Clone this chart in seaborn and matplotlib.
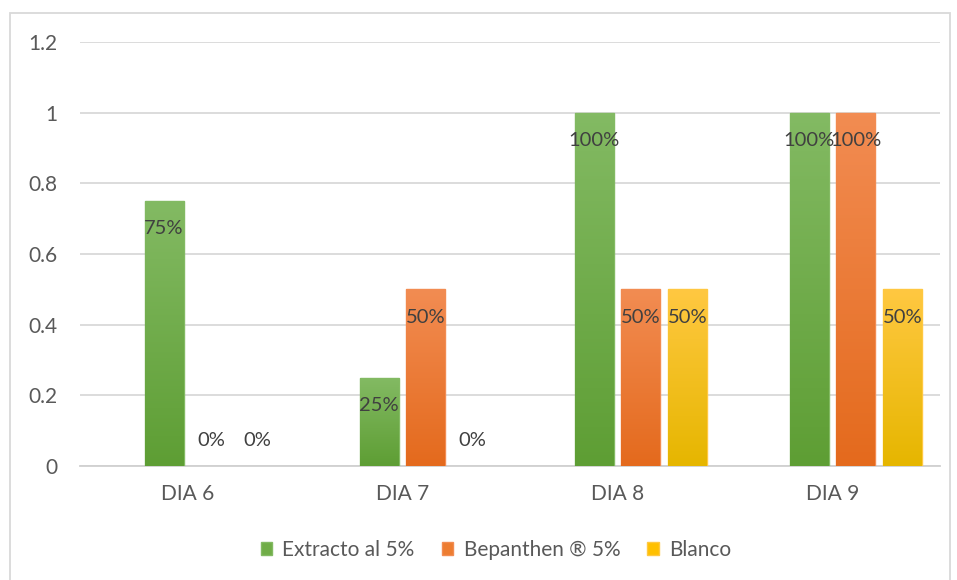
import seaborn as sns
import matplotlib.pyplot as plt
import pandas as pd
import numpy as np
from matplotlib.colors import LinearSegmentedColormap
from matplotlib.patches import Patch, Rectangle

dias = ["DIA 6", "DIA 7", "DIA 8", "DIA 9"]
series = ["Extracto al 5%", "Bepanthen ® 5%", "Blanco"]
extracto = [0.75, 0.25, 1.0, 1.0]
bepanthen = [0.0, 0.5, 0.5, 1.0]
blanco = [0.0, 0.0, 0.5, 0.5]
# excel keeps an empty first series, it takes the first slot of each group
vacio = [0.0, 0.0, 0.0, 0.0]

base = ["#70AD47", "#ED7D31", "#FFC000"]
tops = ["#83BA63", "#F28C52", "#FFC841"]
bottoms = ["#5E9E34", "#E46A1D", "#E6B600"]

rows = []
for name, vals in zip([" "] + series, [vacio, extracto, bepanthen, blanco]):
    for d, v in zip(dias, vals):
        rows.append({"dia": d, "serie": name, "valor": v})
df = pd.DataFrame(rows)

sns.set_theme(style="white")
plt.rcParams["font.family"] = ["Lato", "DejaVu Sans"]

fig = plt.figure(figsize=(9.57, 5.80), dpi=100)
ax = fig.add_axes([80 / 957, 114 / 580, 860 / 957, 424 / 580])

sns.barplot(data=df, x="dia", y="valor", hue="serie", hue_order=[" "] + series,
            palette=["white"] + base, width=0.87, gap=0.17, legend=False,
            linewidth=0, ax=ax, zorder=3)

for i, cont in enumerate(ax.containers[1:]):
    cmap = LinearSegmentedColormap.from_list("g", [bottoms[i], tops[i]])
    for bar in cont:
        x0, w, h = bar.get_x(), bar.get_width(), bar.get_height()
        if h <= 0:
            continue
        bar.set_edgecolor(tops[i])
        bar.set_linewidth(1)
        grad = np.linspace(0, 1, 100).reshape(-1, 1)
        im = ax.imshow(grad, extent=[x0, x0 + w, 0, h], origin="lower",
                       aspect="auto", cmap=cmap, zorder=3.5)
        im.set_clip_path(bar)
    for bar in cont:
        h = bar.get_height()
        off = -20 if h > 0 else 18
        ax.annotate(f"{h:.0%}", (bar.get_x() + bar.get_width() / 2, h),
                    xytext=(0, off), textcoords="offset points",
                    ha="center", va="center", fontsize=14.5, color="#404040", zorder=5)

ax.set_xlim(-0.5, 3.5)
ax.set_ylim(0, 1.2)
ax.set_yticks([0, 0.2, 0.4, 0.6, 0.8, 1, 1.2])
ax.set_yticklabels(["0", "0.2", "0.4", "0.6", "0.8", "1", "1.2"])
ax.yaxis.grid(True, color="#D9D9D9", linewidth=1.3, zorder=0)
ax.set_axisbelow(True)
for s in ["top", "right", "left"]:
    ax.spines[s].set_visible(False)
ax.spines["bottom"].set_color("#D0D0D0")
ax.spines["bottom"].set_linewidth(1.3)
ax.tick_params(axis="y", length=0, pad=16, labelsize=15, labelcolor="#595959")
ax.tick_params(axis="x", length=0, pad=13, labelsize=15, labelcolor="#595959")
ax.set_xlabel("")
ax.set_ylabel("")

handles = [Patch(facecolor=c, edgecolor=t) for c, t in zip(base, tops)]
fig.legend(handles, series, loc="center", bbox_to_anchor=(496 / 957, 1 - 550 / 580),
           ncol=3, frameon=False, fontsize=15, labelcolor="#595959",
           handlelength=0.55, handleheight=0.55, handletextpad=0.5, columnspacing=1.3)

fig.patches.append(Rectangle((10 / 957, -0.02), 940 / 957, 1 - 13 / 580 + 0.02,
                             transform=fig.transFigure, fill=False,
                             edgecolor="#D9D9D9", linewidth=1.3))

plt.savefig("out.png", dpi=100)
